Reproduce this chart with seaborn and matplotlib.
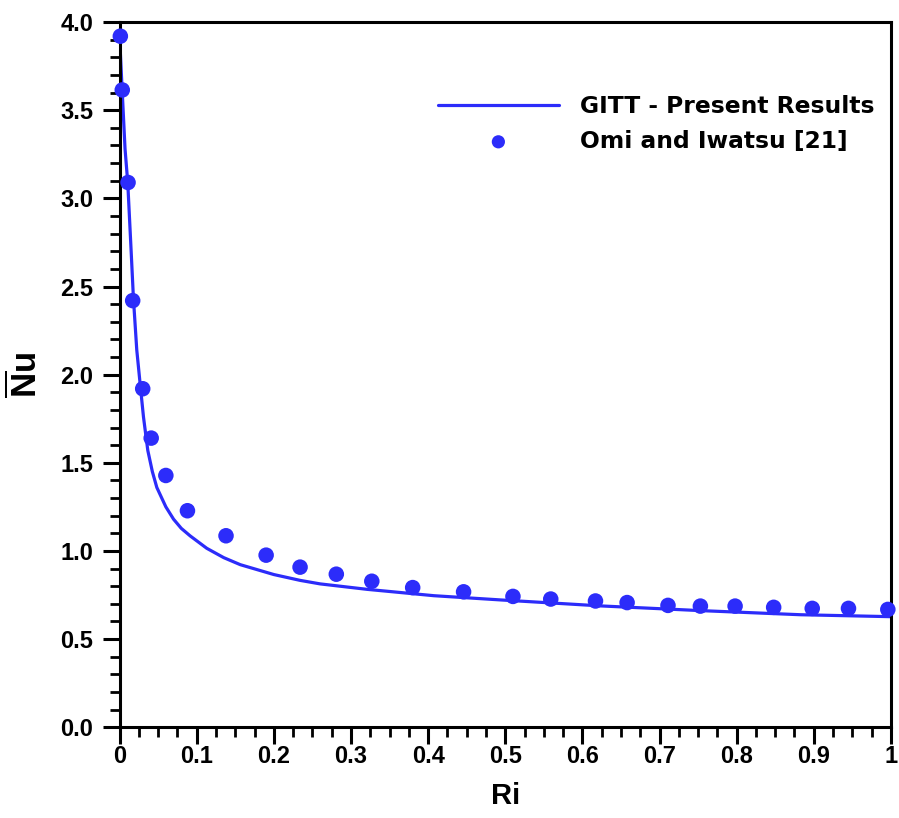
import numpy as np
import pandas as pd
import matplotlib
matplotlib.use("Agg")
import matplotlib.pyplot as plt
import seaborn as sns
from matplotlib.ticker import MultipleLocator, FixedLocator

# GITT - Present Results (curve)
ri_gitt = [0.0, 0.0035, 0.0071, 0.0106, 0.0149, 0.018, 0.0223, 0.0266, 0.031, 0.0366,
           0.0425, 0.0483, 0.060, 0.070, 0.080, 0.0916, 0.113, 0.135, 0.1565, 0.20,
           0.234, 0.26, 0.321, 0.4075, 0.494, 0.624, 0.75, 0.883, 1.0]
nu_gitt = [3.92, 3.60, 3.28, 3.09, 2.71, 2.43, 2.14, 1.95, 1.76, 1.57,
           1.45, 1.36, 1.25, 1.18, 1.128, 1.085, 1.015, 0.962, 0.922, 0.866,
           0.833, 0.813, 0.782, 0.746, 0.722, 0.688, 0.662, 0.638, 0.627]

# Omi and Iwatsu [21] (points)
ri_omi = [0.001, 0.0035, 0.011, 0.017, 0.030, 0.041, 0.060, 0.088, 0.138, 0.190,
          0.234, 0.281, 0.327, 0.380, 0.446, 0.510, 0.559, 0.617, 0.658, 0.711,
          0.753, 0.798, 0.848, 0.898, 0.945, 0.996]
nu_omi = [3.92, 3.615, 3.09, 2.42, 1.92, 1.64, 1.428, 1.228, 1.086, 0.976,
          0.908, 0.868, 0.828, 0.792, 0.768, 0.742, 0.727, 0.716, 0.707, 0.691,
          0.687, 0.687, 0.680, 0.674, 0.674, 0.668]

xticks = [0, 0.1, 0.2, 0.3, 0.4, 0.5, 0.6, 0.7, 0.8, 0.9, 1]
xtick_labels = ["0", "0.1", "0.2", "0.3", "0.4", "0.5", "0.6", "0.7", "0.8", "0.9", "1"]
yticks = [0.0, 0.5, 1.0, 1.5, 2.0, 2.5, 3.0, 3.5, 4.0]
ytick_labels = ["0.0", "0.5", "1.0", "1.5", "2.0", "2.5", "3.0", "3.5", "4.0"]

sns.set_style("ticks")
plt.rcParams['font.family'] = ['Liberation Sans', 'DejaVu Sans']
plt.rcParams['font.weight'] = 'bold'
plt.rcParams['text.color'] = 'black'
plt.rcParams['axes.labelcolor'] = 'black'
plt.rcParams['mathtext.fontset'] = 'custom'
plt.rcParams['mathtext.bf'] = 'Liberation Sans:bold'
plt.rcParams['mathtext.rm'] = 'Liberation Sans:bold'

blue = "#2C2CFA"

fig = plt.figure(figsize=(8.99, 8.18), dpi=100)
ax = fig.add_axes([0.133, 0.111, 0.858, 0.862])

df_line = pd.DataFrame({"Ri": ri_gitt, "Nu": nu_gitt})
df_pts = pd.DataFrame({"Ri": ri_omi, "Nu": nu_omi})

sns.lineplot(data=df_line, x="Ri", y="Nu", ax=ax, color=blue, linewidth=2.3,
             label="GITT - Present Results", sort=True)
sns.scatterplot(data=df_pts, x="Ri", y="Nu", ax=ax, color=blue, s=125,
                edgecolor="none", label="Omi and Iwatsu [21]", zorder=3, clip_on=False)

ax.set_xlim(0, 1)
ax.set_ylim(0, 4.0)
ax.xaxis.set_major_locator(FixedLocator(xticks))
ax.set_xticklabels(xtick_labels)
ax.yaxis.set_major_locator(FixedLocator(yticks))
ax.set_yticklabels(ytick_labels)
ax.xaxis.set_minor_locator(MultipleLocator(0.025))
ax.yaxis.set_minor_locator(MultipleLocator(0.1))

for s in ax.spines.values():
    s.set_linewidth(2.2)
    s.set_color("black")
    s.set_visible(True)

ax.tick_params(axis='both', which='major', direction='out', length=12, width=2.2,
               labelsize=17, colors='black')
ax.tick_params(axis='both', which='minor', direction='out', length=7, width=2.0, colors='black')
ax.tick_params(axis='x', which='major', pad=1)
ax.tick_params(axis='y', which='major', pad=7)
ax.tick_params(top=False, right=False, which='both')

ax.set_xlabel("Ri", fontsize=21, fontweight='bold', labelpad=10, color='black')
ax.set_ylabel(r"$\overline{\mathbf{N}}\mathbf{u}$", fontsize=25, labelpad=12, color='black')

leg = ax.legend(loc='upper right', bbox_to_anchor=(1.006, 0.926), frameon=False,
                prop={'family': 'DejaVu Sans', 'weight': 'bold', 'size': 16.8},
                handlelength=5.2, handletextpad=0.9, labelspacing=0.5,
                markerscale=0.85)
for t in leg.get_texts():
    t.set_color('black')

fig.savefig("out.png", dpi=100)
